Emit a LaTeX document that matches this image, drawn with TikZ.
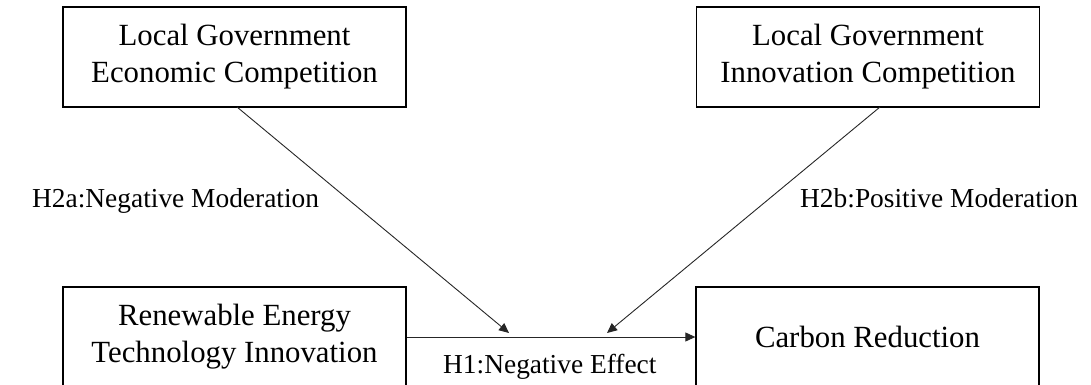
\documentclass[tikz,border=0pt]{standalone}
\usepackage{fontspec}
\setmainfont{Liberation Serif}
\usetikzlibrary{arrows.meta}
\tikzset{
  box/.style={draw=black, line width=1.3pt, minimum width=343pt, minimum height=100pt,
    inner sep=0pt, align=center, font=\fontsize{30.8}{37}\selectfont},
  lbl/.style={font=\fontsize{27.4}{30}\selectfont, inner sep=0pt, anchor=base west},
  conn/.style={draw=black!85, line width=0.9pt, -{Triangle[length=10pt,width=9pt]}}
}
\begin{document}
\begin{tikzpicture}[x=1pt,y=-1pt]
\useasboundingbox (0,0) rectangle (1091,385);
\clip (0,0) rectangle (1091,385);
\node[box] (econ) at (234.5,57) {Local Government\\Economic Competition};
\node[box] (innov) at (868,57) {Local Government\\Innovation Competition};
\node[box] (ret) at (234.5,337) {Renewable Energy\\Technology Innovation};
\node[box] (carb) at (867.5,337) {Carbon Reduction};
\coordinate (s1) at (237,107);
\coordinate (s2) at (880,107);
\coordinate (m1) at (509,333);
\coordinate (m2) at (607,333);
\draw[conn] (ret.east) -- (carb.west);
\draw[conn] (s1) -- (m1);
\draw[conn] (s2) -- (m2);
\node[lbl] (h2a) at (32,207) {H2a:Negative Moderation};
\node[lbl] (h2b) at (800,207) {H2b:Positive Moderation};
\node[lbl] (h1) at (443,373) {H1:Negative Effect};
\end{tikzpicture}
\end{document}
